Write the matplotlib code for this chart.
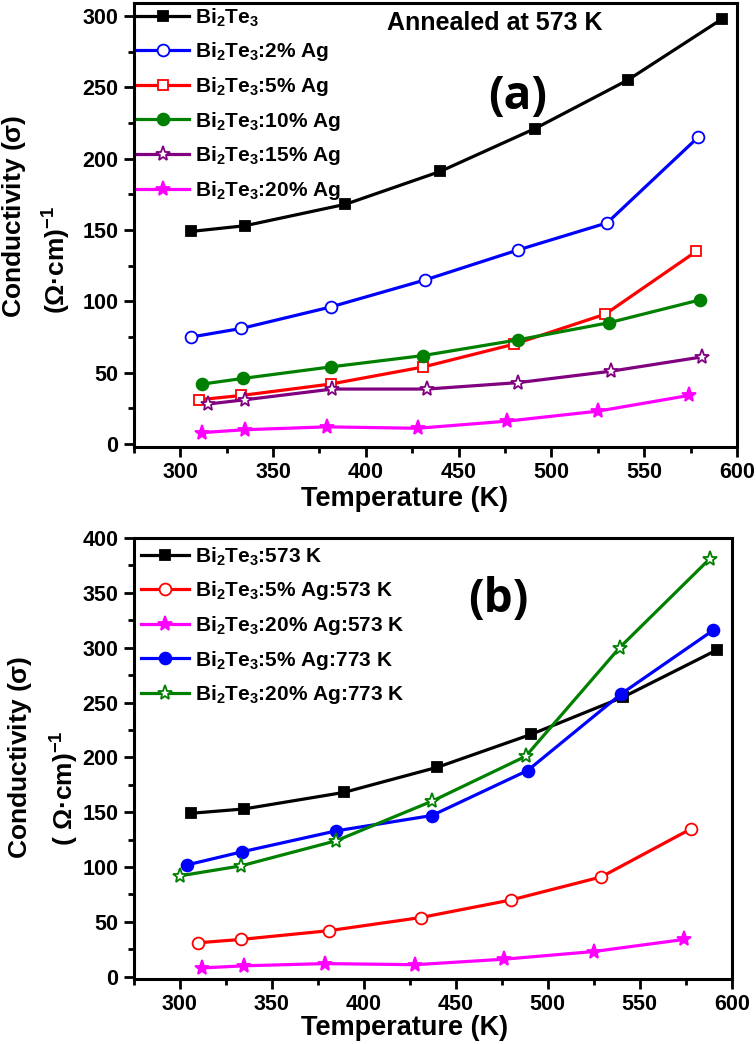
import numpy as np
import matplotlib
matplotlib.use("Agg")
import matplotlib.pyplot as plt
from matplotlib.ticker import MultipleLocator

plt.rcParams["font.family"] = ["Liberation Sans", "DejaVu Sans"]
plt.rcParams["font.weight"] = "bold"
plt.rcParams["mathtext.fontset"] = "custom"
plt.rcParams["mathtext.rm"] = "Liberation Sans"
plt.rcParams["mathtext.bf"] = "Liberation Sans:bold"
plt.rcParams["mathtext.it"] = "Liberation Sans:italic"

# ── Data: panel (a), annealed at 573 K ────────────────────────────────────────
t_pure = [306, 335, 389, 440, 491, 541, 592]
s_pure = [149, 153, 168, 191, 221, 255, 298]

t_ag2 = [306, 333, 381, 432, 482, 530, 579]
s_ag2 = [75, 81, 96, 115, 136, 155, 215]

t_ag5 = [310, 333, 381, 431, 480, 529, 578]
s_ag5 = [31, 34, 42, 54, 70, 91, 135]

t_ag10 = [312, 334, 381, 431, 482, 531, 580]
s_ag10 = [42, 46, 54, 62, 73, 85, 101]

t_ag15 = [315, 335, 382, 433, 482, 532, 581]
s_ag15 = [28, 31, 38.5, 38.5, 43, 51, 61]

t_ag20 = [312, 335, 379, 428, 476, 525, 574]
s_ag20 = [8, 10, 12, 11, 16, 23, 34]

# ── Data: panel (b), extra 773 K anneals ──────────────────────────────────────
t_ag5_773 = [304, 334, 385, 437, 489, 540, 590]
s_ag5_773 = [102, 114, 133, 147, 188, 258, 316]

t_ag20_773 = [300, 333, 385, 437, 488, 539, 588]
s_ag20_773 = [92, 101, 124, 160, 201, 300, 381]

BT = r"Bi$_\mathbf{2}$Te$_\mathbf{3}$"

LW = 2.3
MSIZE = {"s": 7.5, "o": 8.5, "*": 11}


def style_axes(ax, ymax, label_x, label_y):
    ax.set_xlim(275, 600)
    ax.set_ylim(-2, ymax)
    ax.xaxis.set_major_locator(MultipleLocator(50))
    ax.xaxis.set_minor_locator(MultipleLocator(25))
    ax.yaxis.set_major_locator(MultipleLocator(50))
    ax.yaxis.set_minor_locator(MultipleLocator(25))
    ax.tick_params(which="major", direction="out", length=7, width=2,
                   labelsize=15.5, top=False, right=False, pad=4)
    ax.tick_params(which="minor", direction="out", length=4.5, width=2,
                   top=False, right=False)
    for sp in ax.spines.values():
        sp.set_linewidth(2.2)
    ax.set_xlabel("Temperature (K)", fontsize=19.5, fontweight="bold")
    ax.xaxis.set_label_coords(label_x, label_y)


def series(ax, t, s, color, marker, filled, label):
    ax.plot(t, s, color=color, linewidth=LW, marker=marker,
            markersize=MSIZE[marker],
            markerfacecolor=color if filled else "white",
            markeredgecolor=color, markeredgewidth=1.3, label=label)


fig = plt.figure(figsize=(7.56, 10.44), dpi=100)

# ── Panel (a) ─────────────────────────────────────────────────────────────────
ax1 = fig.add_axes([0.177, 0.572, 0.798, 0.425])
series(ax1, t_pure, s_pure, "black", "s", True, BT)
series(ax1, t_ag2, s_ag2, "#0000ff", "o", False, BT + ":2% Ag")
series(ax1, t_ag5, s_ag5, "#ff0000", "s", False, BT + ":5% Ag")
series(ax1, t_ag10, s_ag10, "#008000", "o", True, BT + ":10% Ag")
series(ax1, t_ag15, s_ag15, "#800080", "*", False, BT + ":15% Ag")
series(ax1, t_ag20, s_ag20, "#ff00ff", "*", True, BT + ":20% Ag")
style_axes(ax1, 309, (405 - 134) / 603, -0.088)
ax1.legend(loc="upper left", frameon=False, fontsize=15, handlelength=2.5,
           labelspacing=0.56, borderaxespad=0.1, handletextpad=0.3,
           borderpad=0.05)
ax1.text(0.42, 0.955, "Annealed at 573 K", transform=ax1.transAxes,
         ha="left", va="center", fontsize=18, fontweight="bold")
ax1.text(0.637, 0.79, "(a)", transform=ax1.transAxes, ha="center", va="center",
         fontsize=33, fontweight="bold", family="Open Sans")

# ── Panel (b) ─────────────────────────────────────────────────────────────────
ax2 = fig.add_axes([0.177, 0.0623, 0.791, 0.4224])
series(ax2, t_pure, s_pure, "black", "s", True, BT + ":573 K")
series(ax2, t_ag5, s_ag5, "#ff0000", "o", False, BT + ":5% Ag:573 K")
series(ax2, t_ag20, s_ag20, "#ff00ff", "*", True, BT + ":20% Ag:573 K")
series(ax2, t_ag5_773, s_ag5_773, "#0000ff", "o", True, BT + ":5% Ag:773 K")
series(ax2, t_ag20_773, s_ag20_773, "#008000", "*", False, BT + ":20% Ag:773 K")
style_axes(ax2, 400, (405 - 134) / 598, -0.082)
ax2.legend(loc="upper left", frameon=False, fontsize=15, handlelength=2.3,
           labelspacing=0.56, borderaxespad=0.1, handletextpad=0.3,
           borderpad=0.25)
ax2.text(0.61, 0.86, "(b)", transform=ax2.transAxes, ha="center", va="center",
         fontsize=33, fontweight="bold", family="Open Sans")

# ── Two-line y labels ─────────────────────────────────────────────────────────
ylabels = [(14, 216, 57, 260, r"($\mathrm{Ω}$·cm)$^\mathbf{-1}$"),
           (20, 757, 65, 788, r"( $\mathrm{Ω}$·cm)$^\mathbf{-1}$")]
for x1, y1, x2, y2, unit in ylabels:
    fig.text(x1 / 756, 1 - y1 / 1044, r"Conductivity $\mathrm{(σ)}$",
             rotation=90, ha="center", va="center", fontsize=19,
             fontweight="bold")
    fig.text(x2 / 756, 1 - y2 / 1044, unit,
             rotation=90, ha="center", va="center", fontsize=19,
             fontweight="bold")

fig.savefig("out.png", dpi=100)
